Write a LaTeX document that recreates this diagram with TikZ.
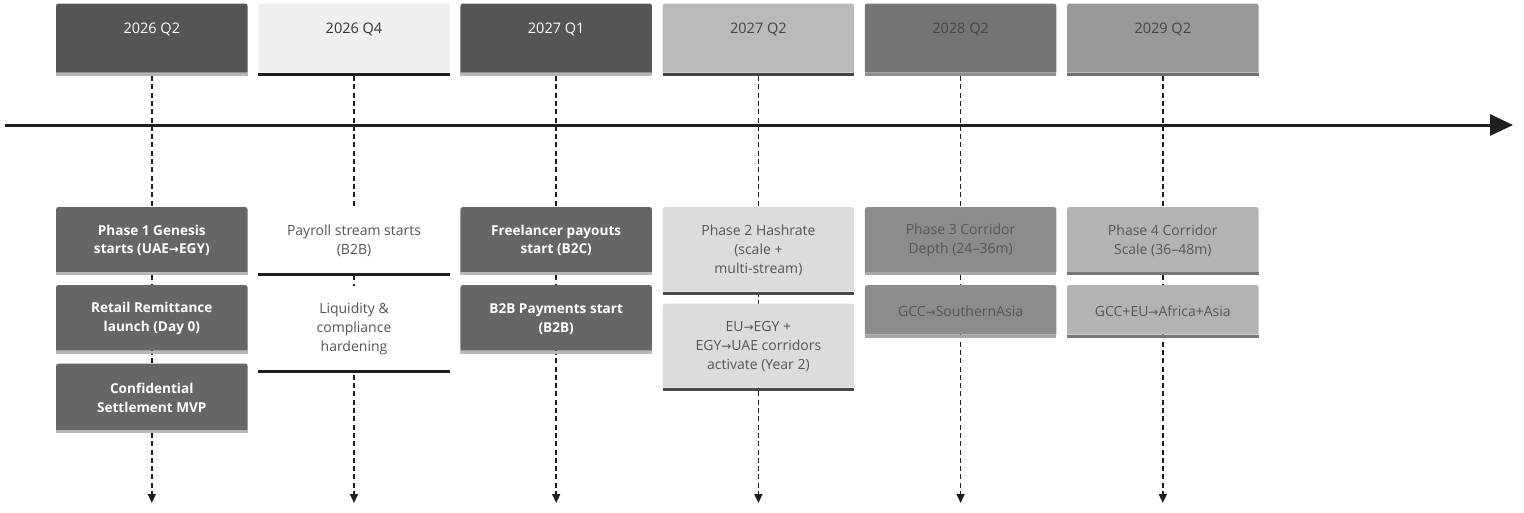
\documentclass[tikz,border=0pt]{standalone}
\usepackage{fontspec}
\setmainfont{Open Sans}
\newfontfamily\symfont{DejaVu Sans}
\newcommand\rarr{{\symfont\fontsize{12}{12}\selectfont →}}
\usetikzlibrary{arrows.meta}
\definecolor{hdAf}{HTML}{555555}\definecolor{hdAs}{HTML}{B5B5B5}
\definecolor{hdBf}{HTML}{EFEFEF}\definecolor{hdBs}{HTML}{1E1E1E}
\definecolor{hdDf}{HTML}{B9B9B9}\definecolor{hdDs}{HTML}{444444}
\definecolor{hdEf}{HTML}{757575}\definecolor{hdEs}{HTML}{8E8E8E}
\definecolor{hdFf}{HTML}{999999}\definecolor{hdFs}{HTML}{6F6F6F}
\definecolor{itAf}{HTML}{666666}\definecolor{itAs}{HTML}{B8B8B8}
\definecolor{itDf}{HTML}{DCDCDC}\definecolor{itDs}{HTML}{4A4A4A}
\definecolor{itEf}{HTML}{8C8C8C}\definecolor{itEs}{HTML}{A6A6A6}
\definecolor{itFf}{HTML}{B3B3B3}\definecolor{itFs}{HTML}{777777}
\definecolor{txtD}{HTML}{333333}\definecolor{txtM}{HTML}{444444}\definecolor{txtL}{HTML}{555555}
\definecolor{axis}{HTML}{1E1E1E}
\tikzset{
  lbl/.style={align=center, inner sep=0pt, font=\fontsize{14}{18.8}\selectfont},
  hdlbl/.style={align=center, inner sep=0pt, font=\fontsize{14.5}{18.8}\selectfont},
  boldlbl/.style={lbl, font=\fontsize{13.6}{18.8}\selectfont\bfseries, text=white},
  guide/.style={axis, line width=1.6pt, dash pattern=on 5pt off 3.3pt, -{Triangle[length=9pt,width=8pt]}},
  mainaxis/.style={axis, line width=3pt, -{Triangle[length=23pt,width=21pt]}}
}
% name, x, ytop, ybottom, fill, strip, style, text
\newcommand\tlbox[8]{%
  \fill[#5] ({#2-95.75},#4) [rounded corners=2.5pt] -- ({#2-95.75},#3) -- ({#2+95.75},#3) [sharp corners] -- ({#2+95.75},#4) -- cycle;
  \fill[#6] ({#2-95.75},#4) rectangle ({#2+95.75},{#4+3});
  \node[#7] (#1) at (#2,{(#3+#4)/2+1}) {#8};
}
% name, x, fill, strip, textcolor, text
\newcommand\hdbox[6]{%
  \fill[#3] ({#2-95.75},72.5) [rounded corners=2.5pt] -- ({#2-95.75},3.5) -- ({#2+95.75},3.5) [sharp corners] -- ({#2+95.75},72.5) -- cycle;
  \fill[#4] ({#2-95.75},72.5) rectangle ({#2+95.75},76);
  \node[hdlbl, text=#5] (#1) at (#2,29) {#6};
}
\begin{document}
\begin{tikzpicture}[x=1pt,y=-1pt]
\useasboundingbox (0,0) rectangle (1524,512);
% guide lines
\foreach \i/\x in {1/151.8,2/354,3/556.2,4/758.4,5/960.6,6/1162.8}{
  \coordinate (g\i t) at (\x,76);
  \coordinate (g\i b) at (\x,503);
  \draw[guide] (g\i t) -- (g\i b);
}
% axis
\coordinate (axs) at (5,125);
\coordinate (axe) at (1513,125);
\draw[mainaxis] (axs) -- (axe);
% headers
\hdbox{h1}{151.8}{hdAf}{hdAs}{white}{2026 Q2}
\hdbox{h2}{354}{hdBf}{hdBs}{txtD}{2026 Q4}
\hdbox{h3}{556.2}{hdAf}{hdAs}{white}{2027 Q1}
\hdbox{h4}{758.4}{hdDf}{hdDs}{txtM}{2027 Q2}
\hdbox{h5}{960.6}{hdEf}{hdEs}{txtM}{2028 Q2}
\hdbox{h6}{1162.8}{hdFf}{hdFs}{txtM}{2029 Q2}
% column 1
\tlbox{a1}{151.8}{207}{272}{itAf}{itAs}{boldlbl}{Phase 1 Genesis\\starts (UAE\rarr EGY)}
\tlbox{a2}{151.8}{285}{350.5}{itAf}{itAs}{boldlbl}{Retail Remittance\\launch (Day 0)}
\tlbox{a3}{151.8}{363.5}{430}{itAf}{itAs}{boldlbl}{Confidential\\Settlement MVP}
% column 2
\tlbox{b1}{354}{207}{273}{white}{hdBs}{lbl,text=txtL}{Payroll stream starts\\(B2B)}
\tlbox{b2}{354}{286}{370}{white}{hdBs}{lbl,text=txtL}{Liquidity \&\\compliance\\hardening}
% column 3
\tlbox{c1}{556.2}{207}{272}{itAf}{itAs}{boldlbl}{Freelancer payouts\\start (B2C)}
\tlbox{c2}{556.2}{285}{350.5}{itAf}{itAs}{boldlbl}{B2B Payments start\\(B2B)}
% column 4
\tlbox{d1}{758.4}{207}{291.5}{itDf}{itDs}{lbl,text=txtL}{Phase 2 Hashrate\\(scale +\\multi-stream)}
\tlbox{d2}{758.4}{303.5}{387.5}{itDf}{itDs}{lbl,text=txtL}{EU\rarr EGY +\\EGY\rarr UAE corridors\\activate (Year 2)}
% column 5
\tlbox{e1}{960.6}{207}{272}{itEf}{itEs}{lbl,text=txtL}{Phase 3 Corridor\\Depth (24–36m)}
\tlbox{e2}{960.6}{285}{334.5}{itEf}{itEs}{lbl,text=txtL}{GCC\rarr SouthernAsia}
% column 6
\tlbox{f1}{1162.8}{207}{272}{itFf}{itFs}{lbl,text=txtL}{Phase 4 Corridor\\Scale (36–48m)}
\tlbox{f2}{1162.8}{285}{334.5}{itFf}{itFs}{lbl,text=txtL}{GCC+EU\rarr Africa+Asia}
\end{tikzpicture}
\end{document}
